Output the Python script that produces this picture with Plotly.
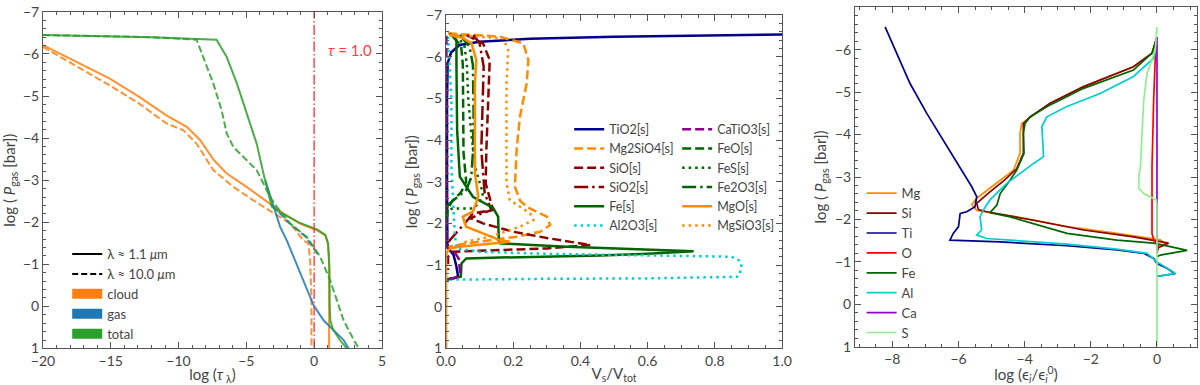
import plotly.graph_objects as go

# ---------------- panel 1: optical depth ----------------
cloud_11_x = [-20, -18.3, -15.1, -12.9, -10.9, -9.4, -8.4, -7.4, -6.45, -4.98, -3.25, -2.27, -1.04, 0.2, 0.81, 1.0, 1.08, 1.1, 1.1]
cloud_11_y = [-6.21, -5.93, -5.42, -4.98, -4.54, -4.27, -3.95, -3.48, -3.16, -2.84, -2.45, -2.21, -1.97, -1.81, -1.69, -1.5, -1.2, -0.9, 1.0]
cloud_10_x = [-20, -18.3, -15.1, -12.9, -10.9, -9.66, -8.67, -7.44, -5.96, -4.48, -3.0, -1.77, -0.79, -0.42, -0.3, -0.2, -0.2]
cloud_10_y = [-6.17, -5.85, -5.26, -4.82, -4.35, -4.19, -3.87, -3.24, -2.84, -2.52, -2.21, -1.97, -1.57, -1.5, -1.1, -0.15, 1.0]
gas_11_x = [-3.6, -3.37, -3.0, -2.51, -2.02, -1.53, -1.04, -0.54, -0.05, 0.69, 1.43, 2.17, 2.54]
gas_11_y = [-3.0, -2.76, -2.37, -1.89, -1.57, -1.18, -0.78, -0.39, -0.03, 0.33, 0.56, 0.8, 1.0]
gas_10_x = [-3.1, -1.9, -0.65, 0.35]
gas_10_y = [-2.4, -2.0, -1.66, -1.2]
total_11_x = [-20, -12, -7.2, -6.45, -5.7, -4.98, -4.24, -3.74, -3.37, -3.13, -2.6, -1.1, 0.2, 0.83, 1.03, 1.1, 1.13, 1.15, 1.2, 1.4, 1.9, 2.4]
total_11_y = [-6.45, -6.4, -6.34, -5.93, -5.3, -4.58, -3.87, -3.16, -2.68, -2.37, -2.25, -1.99, -1.83, -1.7, -1.5, -1.2, -0.9, 0.0, 0.35, 0.55, 0.8, 1.0]
total_10_x = [-20, -12, -8.67, -8.18, -7.44, -6.82, -6.45, -5.96, -4.98, -4.24, -3.74, -3.25, -2.76, -1.77, -0.54, 0.44, 1.18, 1.67, 2.17, 2.66, 3.28]
total_10_y = [-6.45, -6.4, -6.34, -5.93, -5.3, -4.66, -4.11, -3.79, -3.48, -3.24, -2.92, -2.6, -2.37, -1.97, -1.65, -1.18, -0.62, -0.15, 0.33, 0.64, 1.0]
tau_one = 0.0

# ---------------- panel 2: volume fractions ----------------
tio2_x = [1.0, 0.75, 0.5, 0.25, 0.1, 0.04, 0.015, 0.005, 0.003, 0.003, 0.004, 0.012, 0.022, 0.03, 0.036, 0.02, 0.0]
tio2_y = [-6.53, -6.51, -6.48, -6.43, -6.36, -6.28, -6.1, -5.85, -5.0, -3.0, -1.5, -1.35, -1.25, -1.0, -0.72, -0.68, -0.65]
mg2sio4_x = [0.006, 0.16, 0.23, 0.245, 0.24, 0.22, 0.21, 0.205, 0.22, 0.24, 0.3, 0.31, 0.28, 0.21, 0.06, 0.011, 0.002]
mg2sio4_y = [-6.56, -6.48, -6.32, -5.92, -5.36, -4.56, -3.76, -2.88, -2.55, -2.4, -2.16, -1.96, -1.8, -1.68, -1.52, -1.44, -1.4]
sio_x = [0.061, 0.11, 0.13, 0.125, 0.12, 0.118, 0.13, 0.14, 0.08, 0.07, 0.11, 0.2, 0.3, 0.43, 0.3, 0.1, 0.02, 0.006, 0.006]
sio_y = [-6.52, -6.32, -5.92, -4.96, -3.76, -2.96, -2.64, -2.32, -2.24, -2.14, -2.0, -1.8, -1.65, -1.48, -1.4, -1.34, -1.32, -1.2, -0.88]
sio2_x = [0.081, 0.1, 0.112, 0.11, 0.105, 0.115, 0.135, 0.1, 0.066, 0.05, 0.021, 0.006, 0.001]
sio2_y = [-6.52, -6.32, -5.76, -4.96, -3.76, -2.72, -2.32, -2.22, -2.1, -1.95, -1.7, -1.55, -1.44]
fe_x = [0.011, 0.031, 0.031, 0.033, 0.041, 0.08, 0.14, 0.155, 0.157, 0.16, 0.36, 0.6, 0.737, 0.6, 0.46, 0.16, 0.06, 0.046, 0.044, 0.02, 0.0]
fe_y = [-6.56, -6.4, -5.76, -4.24, -3.12, -2.64, -2.37, -2.16, -1.6, -1.52, -1.44, -1.37, -1.33, -1.27, -1.23, -1.18, -1.16, -1.04, -0.72, -0.68, -0.66]
al2o3_x = [0.006, 0.011, 0.016, 0.016, 0.021, 0.026, 0.031, 0.1, 0.3, 0.6, 0.85, 0.875, 0.88, 0.87, 0.6, 0.3, 0.05, 0.0]
al2o3_y = [-6.48, -5.76, -4.96, -3.36, -2.4, -1.76, -1.4, -1.32, -1.27, -1.24, -1.2, -1.1, -0.95, -0.72, -0.68, -0.67, -0.66, -0.65]
catio3_x = [0.001, 0.001, 0.01, 0.028, 0.038, 0.04, 0.042, 0.03, 0.01, 0.0]
catio3_y = [-6.5, -1.45, -1.35, -1.28, -1.15, -1.0, -0.8, -0.7, -0.68, -0.66]
feo_x = [0.021, 0.045, 0.05, 0.05, 0.052, 0.06, 0.045, 0.02, 0.005, 0.001]
feo_y = [-6.48, -6.25, -5.8, -4.6, -3.7, -3.0, -2.75, -2.55, -2.35, -2.0]
fes_x = [0.031, 0.055, 0.062, 0.066, 0.075, 0.088, 0.11, 0.1, 0.08, 0.02, 0.004]
fes_y = [-6.52, -6.25, -5.8, -5.0, -4.16, -3.3, -2.72, -2.5, -2.36, -2.36, -2.3]
fe2o3_x = [0.041, 0.07, 0.08, 0.082, 0.08, 0.075, 0.06, 0.03, 0.006, 0.001]
fe2o3_y = [-6.52, -6.24, -5.8, -4.6, -3.7, -3.1, -2.8, -2.6, -2.45, -2.3]
mgo_x = [0.011, 0.05, 0.076, 0.09, 0.086, 0.085, 0.086, 0.096, 0.08, 0.05, 0.06, 0.11, 0.16, 0.19, 0.1, 0.04, 0.011, 0.002, 0.0, 0.0]
mgo_y = [-6.52, -6.45, -6.32, -5.92, -5.36, -4.24, -3.2, -2.64, -2.28, -2.16, -1.92, -1.76, -1.6, -1.56, -1.49, -1.44, -1.4, -1.3, -1.2, 1.0]
mgsio3_x = [0.011, 0.17, 0.185, 0.18, 0.18, 0.18, 0.19, 0.25, 0.26, 0.22, 0.13, 0.06, 0.006]
mgsio3_y = [-6.52, -6.44, -6.16, -5.36, -4.24, -2.96, -2.56, -2.24, -2.08, -1.92, -1.68, -1.56, -1.36]

# ---------------- panel 3: element depletion ----------------
mg_x = [0.0, -0.05, -0.15, -0.71, -2.22, -3.23, -3.83, -4.09, -4.14, -4.14, -4.34, -4.74, -5.15, -5.45, -5.6, -5.45, -4.24, -2.72, -1.21, -0.1, 0.1, 0.25, 0.0]
mg_y = [-6.3, -6.15, -5.92, -5.6, -5.13, -4.74, -4.42, -4.26, -4.03, -3.56, -3.16, -2.93, -2.69, -2.5, -2.35, -2.21, -2.06, -1.83, -1.67, -1.55, -1.52, -1.42, -1.35]
si_x = [0.0, -0.05, -0.15, -0.71, -2.22, -3.23, -3.83, -4.04, -4.04, -4.24, -4.6, -5.05, -5.35, -5.45, -5.4, -5.15, -3.73, -2.22, -0.71, 0.1, 0.35, 0.0, 0.0]
si_y = [-6.3, -6.15, -5.92, -5.6, -5.13, -4.74, -4.42, -4.26, -3.56, -3.2, -2.93, -2.65, -2.45, -2.38, -2.23, -2.18, -1.98, -1.75, -1.59, -1.48, -1.44, -1.32, -1.25]
ti_x = [-8.22, -7.87, -7.47, -6.96, -6.46, -5.95, -5.6, -5.45, -5.5, -5.75, -5.95, -6.0, -6.16, -6.26, -4.74, -2.72, -1.21, -0.4, -0.1, 0.0, 0.3, 0.55, 0.1, 0.0]
ti_y = [-6.54, -5.92, -5.21, -4.5, -3.87, -3.24, -2.77, -2.54, -2.3, -2.18, -2.14, -1.83, -1.67, -1.51, -1.47, -1.38, -1.28, -1.2, -1.08, -0.96, -0.85, -0.72, -0.67, -0.66]
o_x = [0.0, -0.05, -0.1, -0.15, -0.15, -0.1, 0.05, 0.0]
o_y = [-6.1, -5.84, -4.82, -3.24, -1.67, -1.52, -1.36, -1.2]
fe_el_x = [0.0, -0.05, -0.15, -0.71, -2.22, -3.23, -3.83, -3.99, -4.04, -4.02, -4.24, -4.44, -4.74, -4.84, -5.05, -4.44, -2.72, -1.21, -0.1, 0.4, 0.91, 0.1, 0.0]
fe_el_y = [-6.3, -6.15, -5.92, -5.52, -5.09, -4.7, -4.42, -4.26, -4.03, -3.56, -3.16, -2.93, -2.61, -2.34, -2.16, -2.06, -1.67, -1.51, -1.44, -1.36, -1.27, -1.16, -1.12]
al_x = [0.0, -0.1, -0.71, -1.72, -2.72, -3.33, -3.48, -3.43, -3.73, -4.14, -4.54, -5.05, -5.25, -5.35, -5.3, -5.45, -5.15, -2.72, -1.21, -0.3, 0.0, 0.55, 0.05, 0.0]
al_y = [-6.1, -5.8, -5.37, -4.97, -4.66, -4.42, -4.19, -3.48, -3.32, -3.09, -2.85, -2.46, -2.22, -2.06, -1.75, -1.63, -1.55, -1.42, -1.3, -1.2, -1.0, -0.73, -0.65, -0.65]
ca_x = [0.0, 0.0, 0.0, 0.02, 0.0]
ca_y = [-6.3, -2.3, -1.4, -1.3, -1.2]
s_x = [0.0, -0.05, -0.3, -0.4, -0.45, -0.5, -0.55, -0.55, -0.4, -0.1, -0.02, 0.0, 0.0]
s_y = [-6.54, -6.0, -5.44, -4.82, -4.03, -3.24, -3.0, -2.73, -2.61, -2.5, -2.46, -2.3, 1.0]

c_cloud = 'rgba(255,127,14,0.85)'
c_gas = 'rgba(31,119,180,0.85)'
c_total = 'rgba(44,160,44,0.85)'
navy = '#00008b'
dorange = '#ff8c00'
dred = '#8b0000'
dgreen = '#006400'
turq = '#00ced1'
purple = '#8b008b'

dash1 = '7px,3px'
dash2 = '9px,4px'
dot2 = '2.5px,4px'
dashdot2 = '14px,4px,2.5px,4px'

fig = go.Figure()

# panel 1 lines
for x, y, c, d in [(cloud_11_x, cloud_11_y, c_cloud, 'solid'),
                   (cloud_10_x, cloud_10_y, c_cloud, dash1),
                   (gas_11_x, gas_11_y, c_gas, 'solid'),
                   (gas_10_x, gas_10_y, c_gas, dash1),
                   (total_11_x, total_11_y, c_total, 'solid'),
                   (total_10_x, total_10_y, c_total, dash1)]:
    fig.add_trace(go.Scatter(x=x, y=y, mode='lines', line=dict(color=c, width=2, dash=d),
                             showlegend=False, xaxis='x', yaxis='y'))
fig.add_trace(go.Scatter(x=[tau_one, tau_one], y=[1, -7], mode='lines',
                         line=dict(color='rgba(255,40,40,0.85)', width=1.5, dash='10px,2.5px,1.5px,2.5px'),
                         showlegend=False, xaxis='x', yaxis='y'))
# panel 1 legend entries
for name, c, w, d in [('λ ≈ 1.1 <i>μ</i>m', 'black', 2, 'solid'),
                      ('λ ≈ 10.0 <i>μ</i>m', 'black', 2, '6px,3px'),
                      ('cloud', '#ff7f0e', 10, 'solid'),
                      ('gas', '#1f77b4', 10, 'solid'),
                      ('total', '#2ca02c', 10, 'solid')]:
    fig.add_trace(go.Scatter(x=[None], y=[None], mode='lines', name=name,
                             line=dict(color=c, width=w, dash=d), legend='legend',
                             xaxis='x', yaxis='y'))

# panel 2
col1 = [('TiO2[s]', tio2_x, tio2_y, navy, 'solid'),
        ('Mg2SiO4[s]', mg2sio4_x, mg2sio4_y, dorange, dash2),
        ('SiO[s]', sio_x, sio_y, dred, dash2),
        ('SiO2[s]', sio2_x, sio2_y, dred, dashdot2),
        ('Fe[s]', fe_x, fe_y, dgreen, 'solid'),
        ('Al2O3[s]', al2o3_x, al2o3_y, turq, dot2)]
col2 = [('CaTiO3[s]', catio3_x, catio3_y, purple, dash2),
        ('FeO[s]', feo_x, feo_y, dgreen, dash2),
        ('FeS[s]', fes_x, fes_y, dgreen, dot2),
        ('Fe2O3[s]', fe2o3_x, fe2o3_y, dgreen, dashdot2),
        ('MgO[s]', mgo_x, mgo_y, dorange, 'solid'),
        ('MgSiO3[s]', mgsio3_x, mgsio3_y, dorange, dot2)]
for lg, group in [('legend2', col1), ('legend3', col2)]:
    for name, x, y, c, d in group:
        fig.add_trace(go.Scatter(x=x, y=y, mode='lines', name=name,
                                 line=dict(color=c, width=2.5, dash=d), legend=lg,
                                 xaxis='x2', yaxis='y2'))

# panel 3
for name, x, y, c in [('Mg', mg_x, mg_y, dorange), ('Si', si_x, si_y, dred),
                      ('Ti', ti_x, ti_y, navy), ('O', o_x, o_y, '#ff0000'),
                      ('Fe', fe_el_x, fe_el_y, dgreen), ('Al', al_x, al_y, turq),
                      ('Ca', ca_x, ca_y, '#9400d3'), ('S', s_x, s_y, '#90ee90')]:
    fig.add_trace(go.Scatter(x=x, y=y, mode='lines', name=name,
                             line=dict(color=c, width=1.7), legend='legend4',
                             xaxis='x3', yaxis='y3'))

frame = dict(showline=True, linecolor='#555', linewidth=1, mirror='allticks',
             ticks='inside', ticklen=6, tickcolor='#555', showgrid=False, zeroline=False,
             automargin=False,
             tickfont=dict(size=14, color='#444'), title_font=dict(size=15, color='#444'))
ymin = dict(dtick=0.2, ticks='inside', ticklen=3, tickcolor='#555', showgrid=False)
ytitle = 'log ( <i>P</i><sub>gas</sub> [bar])'
leg = dict(xanchor='left', yanchor='top', bgcolor='rgba(0,0,0,0)')

fig.update_layout(
    width=1200, height=385, margin=dict(l=0, r=0, t=0, b=0),
    plot_bgcolor='white', paper_bgcolor='white',
    font=dict(family='Lato, Open Sans, sans-serif', color='#444'),
    xaxis=dict(frame, domain=[0.0358, 0.3183], range=[-20, 5], dtick=5, anchor='y',
               minor=dict(dtick=1, ticks='inside', ticklen=3, tickcolor='#555', showgrid=False),
               title=dict(text='log (<i>τ</i><sub> λ</sub>)', standoff=0)),
    yaxis=dict(frame, domain=[0.095, 0.969], range=[1, -7], dtick=1, anchor='x',
               minor=ymin, title=dict(text=ytitle, standoff=4)),
    xaxis2=dict(frame, domain=[0.3717, 0.6517], range=[0, 1], dtick=0.2, tickformat='.1f',
                anchor='y2',
                minor=dict(dtick=0.05, ticks='inside', ticklen=3, tickcolor='#555', showgrid=False),
                title=dict(text='V<sub>s</sub>/V<sub>tot</sub>', standoff=0)),
    yaxis2=dict(frame, domain=[0.095, 0.961], range=[1, -7], dtick=1, anchor='x2',
                minor=ymin, title=dict(text=ytitle, standoff=4)),
    xaxis3=dict(frame, domain=[0.7125, 0.9975], range=[-9.13, 1.21], tick0=0, dtick=2,
                anchor='y3',
                minor=dict(tick0=0, dtick=0.5, ticks='inside', ticklen=3, tickcolor='#555', showgrid=False),
                title=dict(text='log (ϵ<sub><i>i</i></sub>/ϵ<sub><i>i</i></sub><sup>0</sup>)', standoff=0)),
    yaxis3=dict(frame, domain=[0.0995, 0.981], range=[1, -7], dtick=1, anchor='x3',
                minor=ymin, title=dict(text=ytitle, standoff=4)),
    legend=dict(leg, x=0.056, y=0.379, font=dict(size=13, color='#444')),
    legend2=dict(leg, x=0.4743, y=0.702, font=dict(size=12.5, color='#444')),
    legend3=dict(leg, x=0.5643, y=0.702, font=dict(size=12.5, color='#444')),
    legend4=dict(leg, x=0.718, y=0.537, font=dict(size=13, color='#444')),
    annotations=[dict(x=2.65, y=-6.1, xref='x', yref='y', text='<i>τ</i> = 1.0',
                      showarrow=False, font=dict(size=15, color='#ff4040'))],
)

# the page body has a default 8px margin; drop it so the figure fills the window
fig.write_html("out.html", config={'displayModeBar': False},
               post_script="document.body.style.margin='0';")
